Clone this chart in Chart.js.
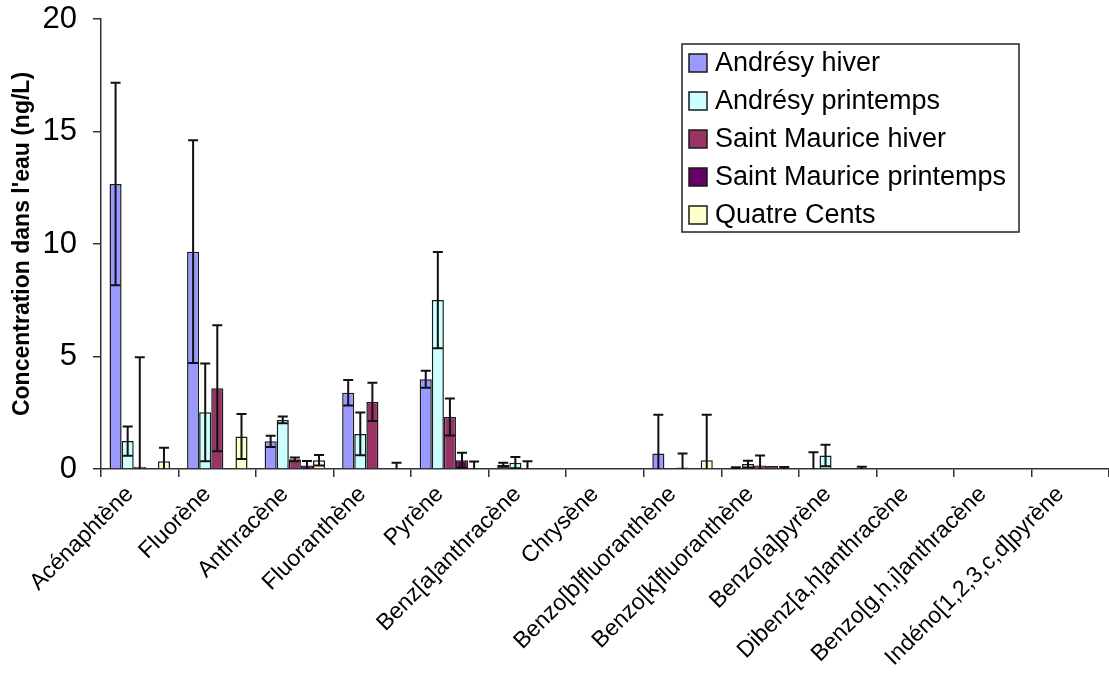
<!DOCTYPE html>
<html>
<head>
<meta charset="utf-8">
<script src="https://cdn.jsdelivr.net/npm/chart.js@4"></script>
<style>
  body { margin: 0; background: #fff; }
  #wrap { width: 1109px; height: 673px; }
</style>
</head>
<body>
<div id="wrap"><canvas id="barChart"></canvas></div>
<script>
// Categories (HAP)
var categories = ['Acénaphtène', 'Fluorène', 'Anthracène', 'Fluoranthène', 'Pyrène',
  'Benz[a]anthracène', 'Chrysène', 'Benzo[b]fluoranthène', 'Benzo[k]fluoranthène',
  'Benzo[a]pyrène', 'Dibenz[a,h]anthracène', 'Benzo[g,h,i]anthracène', 'Indéno[1,2,3,c,d]pyrène'];

// Series values and their error (+/-)
var andresyHiver        = [12.67, 9.66, 1.23, 3.39, 3.99, 0.19, 0, 0.69, 0.05, 0, 0, 0, 0];
var andresyHiverErr     = [4.5, 4.95, 0.25, 0.57, 0.38, 0.09, 0, 1.72, 0.03, 0.74, 0, 0, 0];
var andresyPrintemps    = [1.24, 2.52, 2.18, 1.56, 7.51, 0.28, 0, 0, 0.22, 0.6, 0, 0, 0];
var andresyPrintempsErr = [0.65, 2.17, 0.15, 0.95, 2.14, 0.25, 0, 0, 0.15, 0.48, 0, 0, 0];
var smHiver             = [0.1, 3.59, 0.43, 2.98, 2.31, 0, 0, 0.07, 0.16, 0, 0, 0, 0];
var smHiverErr          = [4.87, 2.8, 0.08, 0.85, 0.82, 0.34, 0, 0.62, 0.44, 0, 0, 0, 0];
var smPrintemps         = [0, 0, 0.16, 0, 0.39, 0, 0, 0, 0.13, 0, 0, 0, 0];
var smPrintempsErr      = [0, 0, 0.2, 0, 0.33, 0, 0, 0, 0, 0, 0, 0, 0];
var quatreCents         = [0.35, 1.44, 0.39, 0, 0, 0, 0, 0.39, 0, 0, 0, 0, 0];
var quatreCentsErr      = [0.6, 1.0, 0.23, 0.28, 0.33, 0, 0, 2.02, 0.09, 0.1, 0, 0, 0];

var yTicks = [0, 5, 10, 15, 20];

var FONT = '"Liberation Sans", Arial, sans-serif';

function bars(label, values, errors, color) {
  return {
    label: label,
    data: values,
    errors: errors,
    backgroundColor: color,
    borderColor: '#1a1a1a',
    borderWidth: 1.5
  };
}

var data = {
  labels: categories,
  datasets: [
    bars('Andrésy hiver', andresyHiver, andresyHiverErr, '#9999FF'),
    bars('Andrésy printemps', andresyPrintemps, andresyPrintempsErr, '#CCFFFF'),
    bars('Saint Maurice hiver', smHiver, smHiverErr, '#993366'),
    bars('Saint Maurice printemps', smPrintemps, smPrintempsErr, '#660066'),
    bars('Quatre Cents', quatreCents, quatreCentsErr, '#FFFFCC')
  ]
};

// error bars, clipped to the plot area
var errorBars = {
  id: 'errorBars',
  afterDatasetsDraw: function(chart) {
    var ctx = chart.ctx, y = chart.scales.y, area = chart.chartArea;
    ctx.save();
    ctx.beginPath();
    ctx.rect(area.left, area.top - 2, area.right - area.left, area.bottom - area.top + 2);
    ctx.clip();
    ctx.strokeStyle = '#111';
    ctx.lineWidth = 2;
    chart.data.datasets.forEach(function(ds, i) {
      chart.getDatasetMeta(i).data.forEach(function(bar, j) {
        var e = ds.errors[j];
        if (!e) return;
        var v = ds.data[j];
        var top = y.getPixelForValue(v + e), bot = y.getPixelForValue(v - e);
        ctx.beginPath();
        ctx.moveTo(bar.x, top); ctx.lineTo(bar.x, bot);
        ctx.moveTo(bar.x - 5, top); ctx.lineTo(bar.x + 5, top);
        ctx.moveTo(bar.x - 5, bot); ctx.lineTo(bar.x + 5, bot);
        ctx.stroke();
      });
    });
    ctx.restore();
  }
};

// legend box inside the plot
var boxLegend = {
  id: 'boxLegend',
  afterDraw: function(chart) {
    var ctx = chart.ctx;
    var x = 682, y = 44, w = 337, h = 188;
    ctx.save();
    ctx.fillStyle = '#fff';
    ctx.fillRect(x, y, w, h);
    ctx.strokeStyle = '#222';
    ctx.lineWidth = 1.5;
    ctx.strokeRect(x, y, w, h);
    ctx.font = '27px ' + FONT;
    ctx.textBaseline = 'middle';
    chart.data.datasets.forEach(function(ds, i) {
      var cy = 63 + i * 38;
      ctx.fillStyle = ds.backgroundColor;
      ctx.fillRect(689, cy - 9, 18, 18);
      ctx.strokeStyle = '#1a1a1a';
      ctx.lineWidth = 1.5;
      ctx.strokeRect(689, cy - 9, 18, 18);
      ctx.fillStyle = '#000';
      ctx.fillText(ds.label, 715, cy + 1);
    });
    ctx.restore();
  }
};

var options = {
  responsive: false,
  animation: false,
  layout: { padding: { top: 19, right: 0, left: 0, bottom: 0 } },
  datasets: { bar: { categoryPercentage: 0.78, barPercentage: 1 } },
  plugins: {
    legend: { display: false },
    tooltip: { enabled: false }
  },
  scales: {
    x: {
      grid: { offset: true, drawOnChartArea: false, drawTicks: true, tickLength: 8, color: '#333', lineWidth: 1.5 },
      border: { display: true, color: '#333', width: 1.5 },
      ticks: {
        minRotation: 45, maxRotation: 45, autoSkip: false, color: '#000', padding: 4, labelOffset: -10,
        font: { family: FONT, size: 23 }
      },
      afterFit: function(scale) { scale.height = 204; }
    },
    y: {
      min: 0, max: 20,
      afterBuildTicks: function(scale) {
        scale.ticks = yTicks.map(function(v) { return { value: v }; });
      },
      grid: { drawOnChartArea: false, drawTicks: true, tickLength: 8, color: '#333', lineWidth: 1.5 },
      border: { display: true, color: '#333', width: 1.5 },
      ticks: {
        color: '#000', padding: 16,
        font: { family: FONT, size: 31 }
      },
      title: {
        display: true, text: "Concentration dans l'eau (ng/L)", color: '#000', padding: { top: 9, bottom: 0 },
        font: { family: FONT, size: 23, weight: 'bold' }
      },
      afterFit: function(scale) {
        scale.width = 101;
        scale.paddingTop = 0;
        scale.paddingBottom = 0;
      }
    }
  }
};

var ctx = document.getElementById('barChart');
ctx.width = 1109;
ctx.height = 673;
var barChart = new Chart(ctx, {
  type: 'bar',
  data: data,
  options: options,
  plugins: [errorBars, boxLegend]
});
</script>
</body>
</html>
